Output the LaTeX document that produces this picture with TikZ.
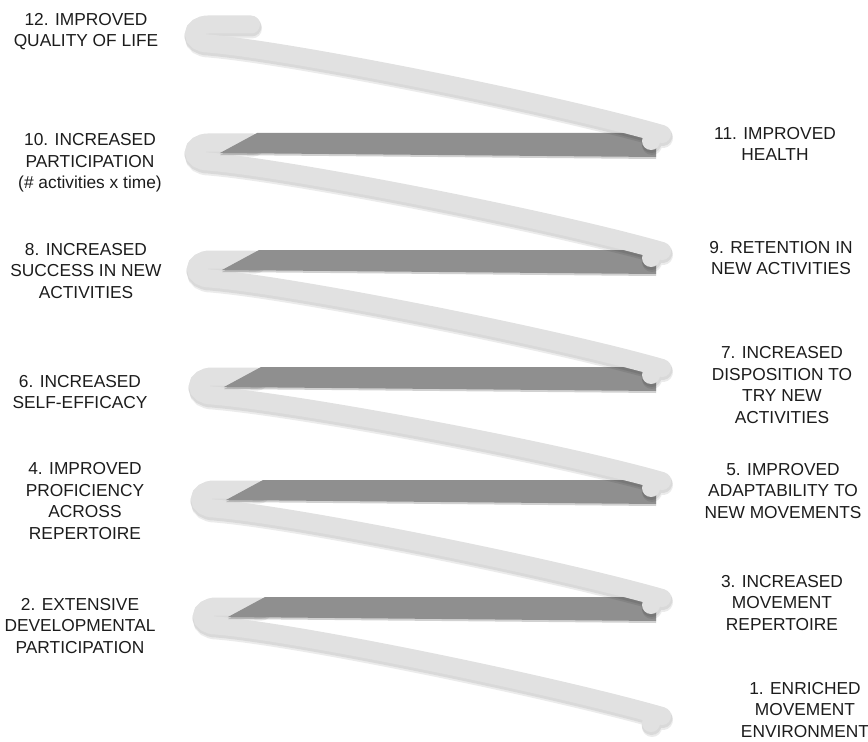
\documentclass[tikz,border=0pt]{standalone}
\usepackage{fontspec}
\setmainfont{Liberation Sans}
\usetikzlibrary{positioning}

\begin{document}
\begin{tikzpicture}[
    % pixel coordinates of the 868 x 742 sheet, y pointing down
    x=0.75pt, y=-0.75pt,
    every node/.style={font=\fontsize{13}{16.2}\selectfont, text=labelcolor,
                       align=center, inner sep=0pt},
]

% ---------------------------------------------------------------- colours
\definecolor{stripcolor}{HTML}{E1E1E1}
\definecolor{bandcolor}{HTML}{8F8F8F}
\definecolor{labelcolor}{HTML}{1C1C1C}

\tikzset{
    strip/.style={stripcolor, line width=13.5pt, line cap=round},
    stripshade/.style={black, opacity=0.08, line width=15pt, line cap=round},
    band/.style={fill=bandcolor},
    bandshade/.style={fill=black, opacity=0.18},
}

\useasboundingbox (0,0) rectangle (868,742);

% ---------------------------------------------------------------- the spiral
% drawn from the bottom up: strip k, then the back band above its curl
\foreach \k/\L/\N/\xo/\xs in {6/616/734/216/261, 5/499/616/214/259,
        4/386/499/212/257, 3/269/386/210/255, 2/152/269/208/253,
        1/34/152/208/251} {
    \draw[stripshade, shift={(1,4)}]
        (\xs,\L-9.5) -- (\xo,\L-9.5)
        arc[start angle=270, end angle=90, x radius=14, y radius=9.5]
        .. controls (\xo+80,\L+16) and (550,\N-50) .. (662,\N-18)
        (651,\N-11) -- ++(0.1,0);
    \draw[stripshade, shift={(0.5,2)}]
        (\xs,\L-9.5) -- (\xo,\L-9.5)
        arc[start angle=270, end angle=90, x radius=14, y radius=9.5]
        .. controls (\xo+80,\L+16) and (550,\N-50) .. (662,\N-18)
        (651,\N-11) -- ++(0.1,0);
    \draw[strip]
        (\xs,\L-9.5) -- (\xo,\L-9.5)
        arc[start angle=270, end angle=90, x radius=14, y radius=9.5]
        .. controls (\xo+80,\L+16) and (550,\N-50) .. (662,\N-18)
        (651,\N-11) -- ++(0.1,0);
    \ifnum\k>1
        \fill[bandshade, shift={(0,2)}]
            (\xo+12,\L+1) -- (\xo+49,\L-19) -- (656,\L-19) -- (656,\L+5) -- cycle;
        \fill[band]
            (\xo+12,\L+1) -- (\xo+49,\L-19) -- (656,\L-19) -- (656,\L+5) -- cycle;
    \fi
}

% ---------------------------------------------------------------- left labels
\node (n12) at (86,31.5)  {12. IMPROVED\\QUALITY OF LIFE};
\node (n10) at (90,163)   {10. INCREASED\\PARTICIPATION\\(\# activities x time)};
\node (n8)  at (86,271)   {8. INCREASED\\SUCCESS IN NEW\\ACTIVITIES};
\node (n6)  at (80,392)   {6. INCREASED\\SELF-EFFICACY};
\node (n4)  at (85,501)   {4. IMPROVED\\PROFICIENCY\\ACROSS\\REPERTOIRE};
\node (n2)  at (80,626)   {2. EXTENSIVE\\DEVELOPMENTAL\\PARTICIPATION};

% ---------------------------------------------------------------- right labels
\node (n11) at (775,144)  {11. IMPROVED\\HEALTH};
\node (n9)  at (781,258)  {9. RETENTION IN\\NEW ACTIVITIES};
\node (n7)  at (782,385)  {7. INCREASED\\DISPOSITION TO\\TRY NEW\\ACTIVITIES};
\node (n5)  at (783,491)  {5. IMPROVED\\ADAPTABILITY TO\\NEW MOVEMENTS};
\node (n3)  at (782,603)  {3. INCREASED\\MOVEMENT\\REPERTOIRE};
\node (n1)  at (805,710)  {1. ENRICHED\\MOVEMENT\\ENVIRONMENT};

\end{tikzpicture}
\end{document}
